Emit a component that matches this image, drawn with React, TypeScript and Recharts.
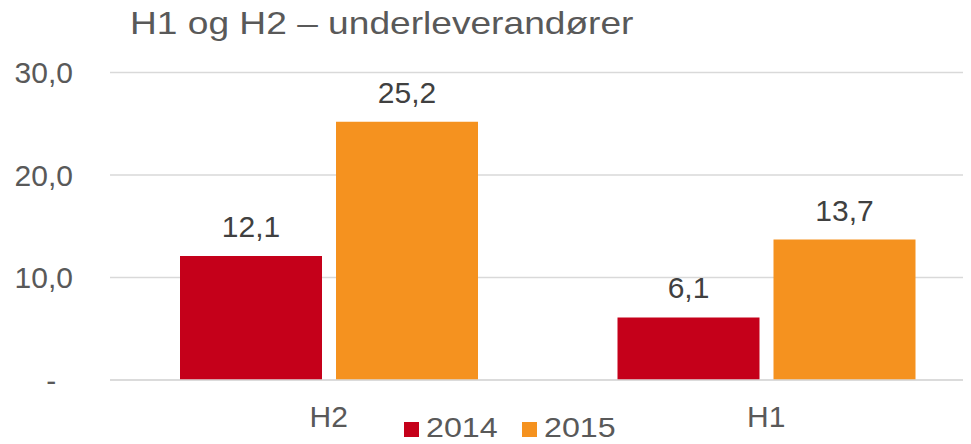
import { BarChart, Bar, XAxis, YAxis, CartesianGrid, Legend, LabelList } from 'recharts';
import { FC } from 'react';

const title = 'H1 og H2 – underleverandører';
const categories = ['H2', 'H1'];
const seriesNames = ['2014', '2015'];
const values2014 = [12.1, 6.1];
const values2015 = [25.2, 13.7];
const yTicks = [0, 10, 20, 30];
const colors = ['#C5001A', '#F5921F'];

const data = categories.map((name, i) => ({
  name,
  v2014: values2014[i],
  v2015: values2015[i],
}));

const font = '"Liberation Sans", Arial, sans-serif';

const fmt = (v: number) => (v === 0 ? '-\u00A0\u00A0' : v.toFixed(1).replace('.', ','));

// legend drawn by hand so the squares and texts sit where the original has them
const LegendBox: FC = () => (
  <div style={{ position: 'relative', width: 240, height: 26, fontFamily: font, fontSize: 28, color: '#595959' }}>
    {seriesNames.map((s, i) => (
      <div key={s}>
        <span style={{ position: 'absolute', left: i * 118, top: 4, width: 15, height: 15, background: colors[i] }} />
        <span
          style={{
            position: 'absolute',
            left: i * 118 + 22,
            top: 0,
            height: 20,
            lineHeight: '20px',
            whiteSpace: 'nowrap',
            transform: 'scaleX(1.15)',
            transformOrigin: 'left top',
          }}
        >
          {s}
        </span>
      </div>
    ))}
  </div>
);

const App: FC = () => {
  return (
    <div style={{ position: 'relative', width: 971, height: 444, overflow: 'hidden', marginLeft: -8, marginTop: -8, background: '#fff' }}>
      <div
        style={{
          position: 'absolute',
          left: 130,
          top: 7,
          fontFamily: font,
          fontSize: 32,
          lineHeight: '32px',
          color: '#595959',
          whiteSpace: 'nowrap',
          transform: 'scaleX(1.16)',
          transformOrigin: 'left top',
          zIndex: 1,
        }}
      >
        {title}
      </div>
      <BarChart
        width={1000}
        height={444}
        data={data}
        margin={{ top: 72.5, right: 15, left: 0, bottom: 0 }}
        barCategoryGap="16%"
        barGap={14}
      >
        <CartesianGrid vertical={false} stroke="#D9D9D9" strokeWidth={1.5} />
        <XAxis
          dataKey="name"
          height={38}
          tickSize={0}
          tickMargin={26}
          axisLine={{ stroke: '#D9D9D9', strokeWidth: 1.5 }}
          tick={{ fill: '#595959', fontSize: 30, fontFamily: font }}
        />
        <YAxis
          width={110}
          domain={[0, 30]}
          ticks={yTicks}
          tickFormatter={fmt}
          axisLine={false}
          tickSize={0}
          tickMargin={37}
          tick={{ fill: '#595959', fontSize: 30, fontFamily: font }}
        />
        <Legend
          verticalAlign="bottom"
          content={<LegendBox />}
          wrapperStyle={{ left: 404, bottom: 0, width: 240 }}
        />
        <Bar dataKey="v2014" name={seriesNames[0]} fill={colors[0]} isAnimationActive={false}>
          <LabelList dataKey="v2014" position="top" offset={19} formatter={(v: number) => fmt(v)} style={{ fill: '#404040', fontSize: 30, fontFamily: font }} />
        </Bar>
        <Bar dataKey="v2015" name={seriesNames[1]} fill={colors[1]} isAnimationActive={false}>
          <LabelList dataKey="v2015" position="top" offset={19} formatter={(v: number) => fmt(v)} style={{ fill: '#404040', fontSize: 30, fontFamily: font }} />
        </Bar>
      </BarChart>
    </div>
  );
};

export default App;
